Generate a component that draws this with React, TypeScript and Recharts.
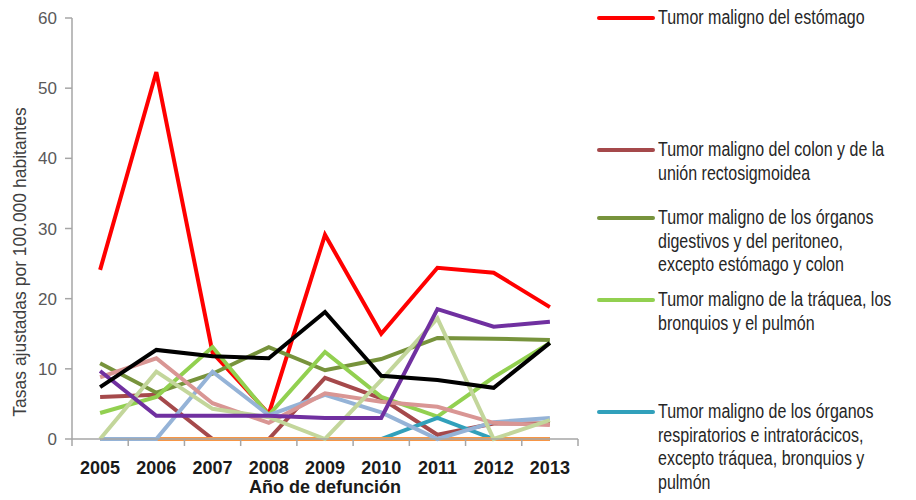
import { Label, Legend, Line, LineChart, XAxis, YAxis } from "recharts";

const YEARS = ["2005", "2006", "2007", "2008", "2009", "2010", "2011", "2012", "2013"];

const ESTOMAGO = [24.1, 52.3, 12.3, 3.6, 29.1, 15.0, 24.4, 23.7, 18.8];
const COLON = [6.0, 6.3, 0, 0, 8.7, 5.8, 0.6, 2.2, 2.2];
const DIGESTIVOS = [10.8, 6.6, 9.3, 13.1, 9.8, 11.4, 14.4, 14.3, 14.1];
const TRAQUEA = [3.7, 6.0, 13.1, 3.4, 12.4, 6.0, 3.2, 8.8, 13.7];
const RESPIRATORIOS = [0, 0, 0, 0, 0, 0, 3.0, 0, 0];
const SERIE_NARANJA = [0, 0, 0, 0, 0, 0, 0, 0, 0];
const SERIE_AZUL = [0, 0, 9.6, 3.4, 6.3, 3.8, 0, 2.4, 3.0];
const SERIE_ROSA = [8.8, 11.5, 5.1, 2.3, 6.5, 5.3, 4.6, 2.3, 2.0];
const SERIE_SALVIA = [0, 9.6, 4.3, 3.1, 0, 8.4, 17.2, 0, 2.7];
const SERIE_MORADA = [9.7, 3.3, 3.3, 3.3, 3.0, 3.0, 18.5, 16.0, 16.7];
const SERIE_NEGRA = [7.4, 12.7, 11.8, 11.5, 18.1, 9.0, 8.4, 7.3, 13.7];

const Y_TICKS = [0, 10, 20, 30, 40, 50, 60];

// legend labels keep the reference's line breaks
const SERIES = [
  { key: "estomago", label: "Tumor maligno del estómago", values: ESTOMAGO, color: "#ff0000", legend: true },
  { key: "colon", label: "Tumor maligno del colon y de la\nunión rectosigmoidea", values: COLON, color: "#a5494b", legend: true },
  {
    key: "digestivos",
    label: "Tumor maligno de los órganos\ndigestivos y del peritoneo,\nexcepto estómago y colon",
    values: DIGESTIVOS,
    color: "#77933c",
    legend: true,
  },
  { key: "traquea", label: "Tumor maligno de la tráquea, los\nbronquios y el pulmón", values: TRAQUEA, color: "#92d050", legend: true },
  {
    key: "respiratorios",
    label: "Tumor maligno de los órganos\nrespiratorios e intratorácicos,\nexcepto tráquea, bronquios y\npulmón",
    values: RESPIRATORIOS,
    color: "#31a0bb",
    legend: true,
  },
  { key: "naranja", label: "Serie 6", values: SERIE_NARANJA, color: "#f79646", legend: false },
  { key: "azul", label: "Serie 7", values: SERIE_AZUL, color: "#95b3d7", legend: false },
  { key: "rosa", label: "Serie 8", values: SERIE_ROSA, color: "#d99694", legend: false },
  { key: "salvia", label: "Serie 9", values: SERIE_SALVIA, color: "#c3d69b", legend: false },
  { key: "morada", label: "Serie 10", values: SERIE_MORADA, color: "#7030a0", legend: false },
  { key: "negra", label: "Serie 11", values: SERIE_NEGRA, color: "#000000", legend: false },
];

const data = YEARS.map((year, i) => {
  const row: Record<string, string | number> = { year };
  SERIES.forEach((s) => {
    row[s.key] = s.values[i];
  });
  return row;
});

// layout
const PLOT_LEFT = 72;
const PLOT_RIGHT = 578;
const PLOT_TOP = 18;
const PLOT_BOTTOM = 439;
const HALF_BAND = (PLOT_RIGHT - PLOT_LEFT) / YEARS.length / 2;
const LEGEND_TOPS = [6, 138, 206, 288, 400];
const AXIS_GRAY = "#a6a6a6";
const SANS = "'Liberation Sans', Arial, sans-serif";

function YearTick(props: any) {
  const { x, payload, index } = props;
  return (
    <g>
      <line x1={x - HALF_BAND} x2={x - HALF_BAND} y1={PLOT_BOTTOM} y2={PLOT_BOTTOM + 7} stroke={AXIS_GRAY} strokeWidth={1.5} />
      {index === YEARS.length - 1 && (
        <line x1={x + HALF_BAND} x2={x + HALF_BAND} y1={PLOT_BOTTOM} y2={PLOT_BOTTOM + 7} stroke={AXIS_GRAY} strokeWidth={1.5} />
      )}
      <text x={x} y={PLOT_BOTTOM + 35} textAnchor="middle" fontFamily={SANS} fontWeight="bold" fontSize={18} fill="#1a1a1a">
        {payload.value}
      </text>
    </g>
  );
}

function SideLegend(props: any) {
  const colors: Record<string, string> = {};
  (props.payload || []).forEach((p: any) => {
    colors[p.value] = p.color;
  });
  const items = SERIES.filter((s) => s.legend);
  return (
    <div style={{ position: "relative", width: 319, height: 500 }}>
      {items.map((item, i) => (
        <div
          key={item.key}
          style={{ position: "absolute", left: 0, top: LEGEND_TOPS[i], display: "flex", alignItems: "flex-start" }}
        >
          <div
            style={{
              width: 58,
              height: 4,
              marginTop: 10,
              background: colors[item.label] || item.color,
              borderRadius: 2,
              flex: "none",
            }}
          />
          <div
            style={{
              marginLeft: 3,
              width: 330,
              whiteSpace: "pre-line",
              fontFamily: SANS,
              fontSize: 20,
              lineHeight: "23.5px",
              color: "#262626",
              transform: "scaleX(0.8)",
              transformOrigin: "left top",
            }}
          >
            {item.label}
          </div>
        </div>
      ))}
    </div>
  );
}

export default function App() {
  return (
    <div
      style={{
        position: "absolute",
        left: 0,
        top: 0,
        width: 916,
        height: 500,
        overflow: "hidden",
        background: "#fff",
      }}
    >
      <div
        style={{
          position: "absolute",
          left: 420,
          top: -19,
          width: 90,
          textAlign: "center",
          fontFamily: SANS,
          fontSize: 20,
          color: "#262626",
        }}
      >
        2013
      </div>
      <LineChart
        width={916}
        height={500}
        data={data}
        margin={{ top: PLOT_TOP, right: 916 - PLOT_RIGHT, bottom: 0, left: 0 }}
      >
        <XAxis
          dataKey="year"
          height={500 - PLOT_BOTTOM}
          padding={{ left: HALF_BAND, right: HALF_BAND }}
          axisLine={{ stroke: AXIS_GRAY, strokeWidth: 1.5 }}
          tickLine={false}
          tick={<YearTick />}
          interval={0}
        >
          <Label
            value="Año de defunción"
            position="insideBottom"
            offset={7}
            style={{ fontFamily: SANS, fontWeight: "bold", fontSize: 18, fill: "#1a1a1a" }}
          />
        </XAxis>
        <YAxis
          width={PLOT_LEFT}
          domain={[0, 60]}
          ticks={Y_TICKS}
          interval={0}
          axisLine={{ stroke: AXIS_GRAY, strokeWidth: 1.5 }}
          tickLine={{ stroke: AXIS_GRAY, strokeWidth: 1.5 }}
          tickSize={7}
          tickMargin={8}
          tick={{ fill: "#595959", fontSize: 17, fontFamily: SANS }}
        >
          <Label
            content={() => (
              <text
                x={20}
                y={262}
                transform="rotate(-90 20 262)"
                textAnchor="middle"
                dominantBaseline="central"
                fontFamily={SANS}
                fontSize={17.5}
                fill="#404040"
              >
                Tasas ajustadas por 100.000 habitantes
              </text>
            )}
          />
        </YAxis>
        <Legend
          layout="vertical"
          align="center"
          verticalAlign="middle"
          wrapperStyle={{ left: 597, top: 0, width: 319, height: 500 }}
          content={<SideLegend />}
        />
        {SERIES.map((s) => (
          <Line
            key={s.key}
            type="linear"
            dataKey={s.key}
            name={s.label}
            stroke={s.color}
            strokeWidth={4}
            dot={false}
            activeDot={false}
            isAnimationActive={false}
          />
        ))}
      </LineChart>
    </div>
  );
}
